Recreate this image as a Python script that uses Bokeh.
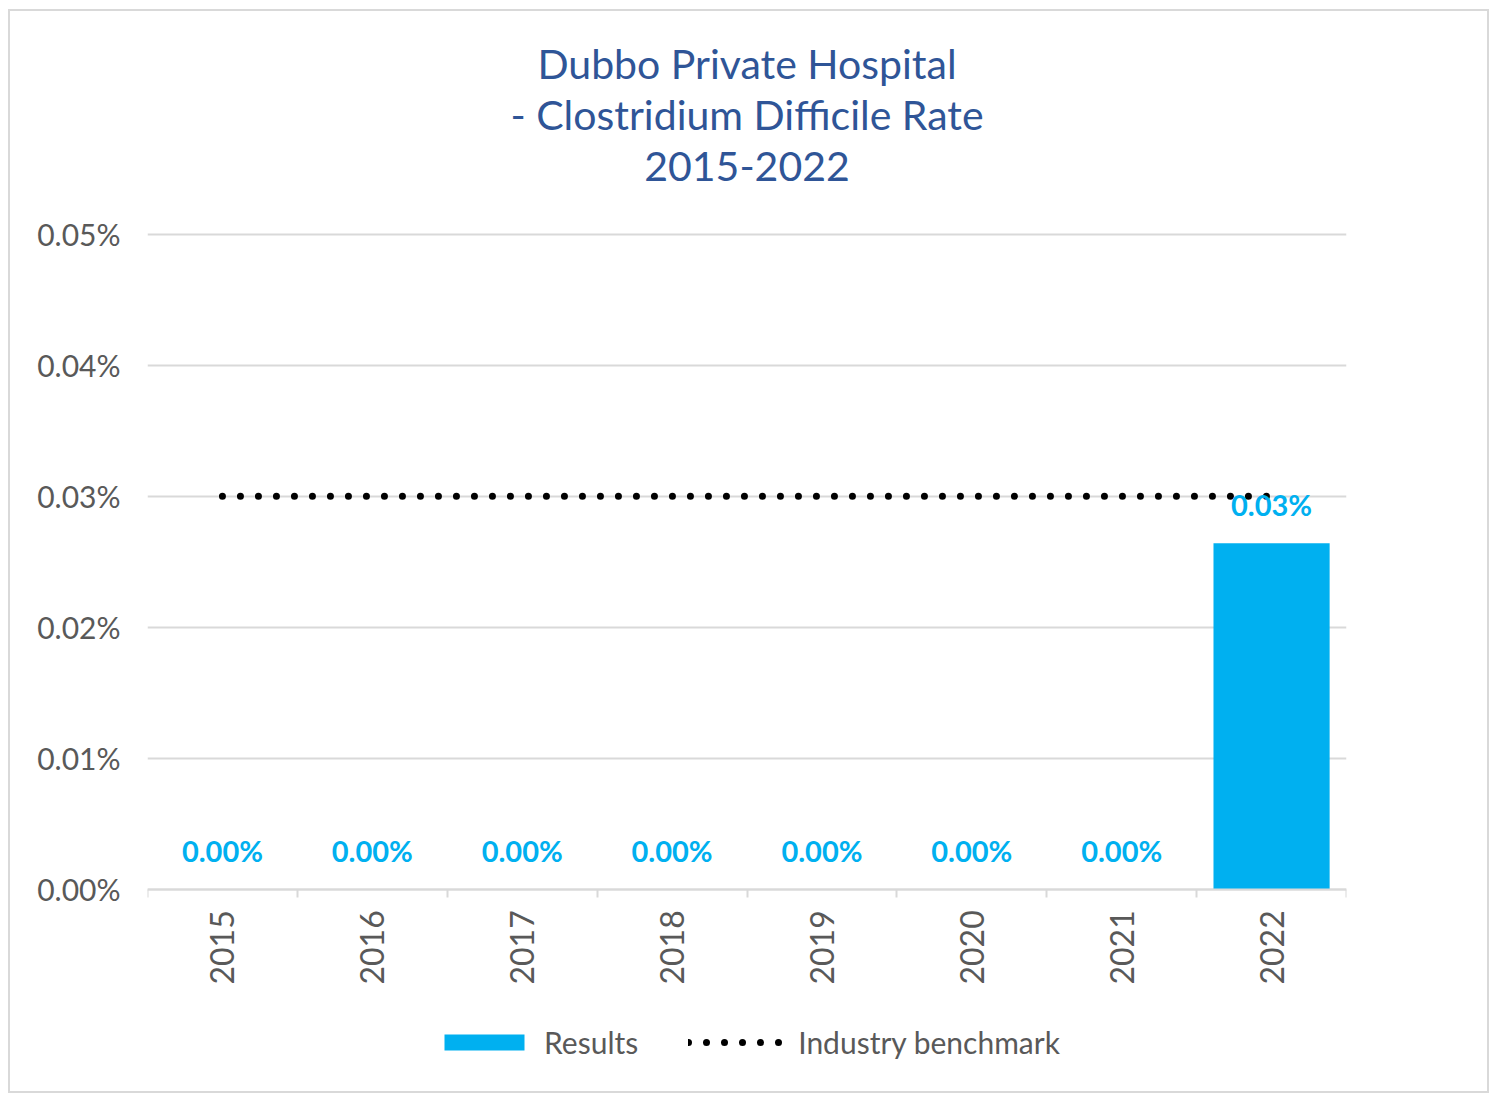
from math import pi
from bokeh.plotting import figure
from bokeh.models import (ColumnDataSource, FixedTicker, PrintfTickFormatter, Range1d,
                          Legend, LegendItem, Label)
from bokeh.embed import file_html
from bokeh.resources import INLINE

years = ["2015", "2016", "2017", "2018", "2019", "2020", "2021", "2022"]
results = [0.0, 0.0, 0.0, 0.0, 0.0, 0.0, 0.0, 0.0264]
benchmark = [0.03, 0.03, 0.03, 0.03, 0.03, 0.03, 0.03, 0.03]
y_ticks = [0.0, 0.01, 0.02, 0.03, 0.04, 0.05]
title_lines = ["Dubbo Private Hospital", "- Clostridium Difficile Rate", "2015-2022"]

FONT = "Lato"
GREY = "#595959"
BLUE = "#00B0F0"
TITLE_BLUE = "#2F5597"

xc = [i + 0.5 for i in range(len(years))]
bounds = [float(i) for i in range(len(years) + 1)]
src = ColumnDataSource(dict(x=xc, year=years, res=results, bench=benchmark,
                            lab=[f"{v:.2f}%" for v in results]))

# the frame extends upward (title) and downward (axis labels, legend);
# grid/ticks cover 0..0.05% only and the x axis is pinned at y = 0
p = figure(frame_width=1199, frame_height=1060, output_backend="svg",
           toolbar_location=None,
           x_range=Range1d(0, len(years)), y_range=Range1d(-0.0149, 0.066),
           min_border_left=137, min_border_right=141, min_border_top=13,
           min_border_bottom=7)
p.outline_line_color = None
p.styles = {"border": "2px solid #d9d9d9", "margin-left": "8px", "margin-top": "9px"}

bars = p.vbar(x="x", top="res", width=0.775, bottom=0, source=src,
              fill_color=BLUE, line_color=None)
bench = p.line(x="x", y="bench", source=src, line_color="black", line_width=7,
               line_dash="0 18", line_cap="round")
p.text(x="x", y="res", text="lab", source=src, text_align="center",
       text_baseline="bottom", y_offset=-21, text_color=BLUE,
       text_font={"value": FONT}, text_font_size="29px", text_font_style="bold")

# axes
p.xaxis.fixed_location = 0
p.xaxis.ticker = FixedTicker(ticks=xc, minor_ticks=bounds)
p.xaxis.major_label_overrides = {x: y for x, y in zip(xc, years)}
p.xaxis.major_label_orientation = pi / 2
p.xaxis.major_tick_line_color = None
p.xaxis.minor_tick_line_color = "#d9d9d9"
p.xaxis.minor_tick_line_width = 2
p.xaxis.minor_tick_in = 0
p.xaxis.minor_tick_out = 8
p.xaxis.axis_line_color = "#d9d9d9"
p.xaxis.axis_line_width = 2
p.xaxis.major_label_text_font = FONT
p.xaxis.major_label_text_font_size = "32px"
p.xaxis.major_label_text_color = GREY
p.xaxis.major_label_standoff = 13

p.yaxis.ticker = FixedTicker(ticks=y_ticks)
p.yaxis.formatter = PrintfTickFormatter(format="%.2f%%")
p.yaxis.axis_line_color = None
p.yaxis.major_tick_line_color = None
p.yaxis.minor_tick_line_color = None
p.yaxis.major_label_text_font = FONT
p.yaxis.major_label_text_font_size = "30px"
p.yaxis.major_label_text_color = GREY
p.yaxis.major_label_standoff = 21

p.xgrid.grid_line_color = None
p.ygrid.ticker = FixedTicker(ticks=y_ticks)
p.ygrid.grid_line_color = "#d9d9d9"
p.ygrid.grid_line_width = 2

# title lines
for txt, yy in zip(title_lines, [0.06305, 0.05916, 0.05519]):
    p.add_layout(Label(x=len(years) / 2, y=yy, text=txt, text_align="center",
                       text_baseline="middle", text_font=FONT, text_font_size="41px",
                       text_color=TITLE_BLUE))

legend = Legend(items=[LegendItem(label="Results", renderers=[bars]),
                       LegendItem(label="Industry benchmark", renderers=[bench])],
                orientation="horizontal", location=(287, 24),
                border_line_color=None, background_fill_alpha=0,
                label_text_font=FONT, label_text_font_size="30px",
                label_text_color=GREY, glyph_width=100, glyph_height=20,
                spacing=50, label_standoff=10, padding=0, margin=0)
p.add_layout(legend, "center")

open("out.html", "w").write(file_html(p, INLINE))
